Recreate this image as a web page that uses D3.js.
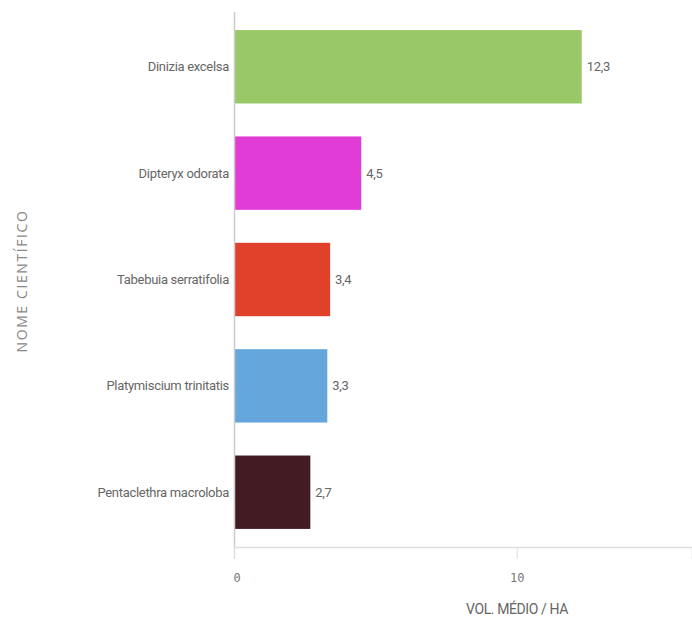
<!DOCTYPE html>
<html><head><meta charset="utf-8">
<script src="https://cdn.jsdelivr.net/npm/d3@7"></script>
<style>body{margin:0;background:#fff}svg{display:block}</style>
</head><body>
<svg id="c" width="692" height="618"></svg>
<script>
const categories = ["Dinizia excelsa","Dipteryx odorata","Tabebuia serratifolia","Platymiscium trinitatis","Pentaclethra macroloba"];
const values = [12.3, 4.5, 3.4, 3.3, 2.7];
const colors = ["#99c866","#e23cd6","#e1412b","#65a7dc","#421c22"];
const xTicks = [0, 10];
const xTitle = "VOL. MÉDIO / HA";
const yTitle = "NOME CIENTÍFICO";

const svg = d3.select("#c");
const x = d3.scaleLinear().domain([0, 16.2]).range([234, 692]);
const y = d3.scaleBand().domain(categories).range([12, 547]).paddingInner(0.31).paddingOuter(0.17);
const labelFont = "'Roboto','Liberation Sans',sans-serif";
const tickFont = "'DejaVu Sans Mono',monospace";

// bars
svg.selectAll("rect.bar").data(categories).join("rect")
  .attr("class","bar")
  .attr("x", x(0)).attr("y", d => y(d))
  .attr("width", (d,i) => x(values[i]) - x(0))
  .attr("height", y.bandwidth())
  .attr("fill", (d,i) => colors[i]);

// value labels
svg.selectAll("text.val").data(categories).join("text")
  .attr("class","val")
  .attr("x", (d,i) => x(values[i]) + 5)
  .attr("y", d => y(d) + y.bandwidth()/2)
  .attr("dy","0.35em")
  .attr("font-family", labelFont).attr("font-size", 13).attr("letter-spacing","-0.3px").attr("fill","#666")
  .text((d,i) => String(values[i]).replace(".", ","));

// y axis line
svg.append("line").attr("x1",234.5).attr("x2",234.5).attr("y1",12).attr("y2",547)
  .attr("stroke","#ccc").attr("stroke-width",1.5);
// category labels
svg.selectAll("text.cat").data(categories).join("text")
  .attr("class","cat")
  .attr("x", 229).attr("y", d => y(d) + y.bandwidth()/2)
  .attr("dy","0.35em").attr("text-anchor","end")
  .attr("font-family", labelFont).attr("font-size", 13).attr("letter-spacing","-0.3px").attr("fill","#666")
  .text(d => d);

// x axis
const xAxis = d3.axisBottom(x).tickValues(xTicks).tickSize(12).tickFormat(d3.format("d"));
const gx = svg.append("g").attr("transform","translate(0,547)").call(xAxis);
gx.select(".domain").attr("stroke","#ddd").attr("stroke-width",1.5);
gx.selectAll(".tick line").attr("stroke","#ddd");
gx.selectAll(".tick").filter(d => d === 0).select("line").remove();
gx.selectAll(".tick text").attr("font-family", tickFont).attr("font-size", 12).attr("fill","#777").attr("y", 26)
  .attr("text-anchor", d => d === 0 ? "start" : "middle")
  .attr("dx", d => d === 0 ? "-1" : "0");

// axis titles
svg.append("text").attr("x", 517).attr("y", 614).attr("text-anchor","middle")
  .attr("font-family", labelFont).attr("font-size", 14).attr("letter-spacing","-0.4px").attr("fill","#666").text(xTitle);
svg.append("text").attr("transform","translate(27,281) rotate(-90)").attr("text-anchor","middle")
  .attr("font-family","'Open Sans',sans-serif").attr("font-size", 14).attr("letter-spacing","1.6px").attr("fill","#888").text(yTitle);
</script>
</body></html>
